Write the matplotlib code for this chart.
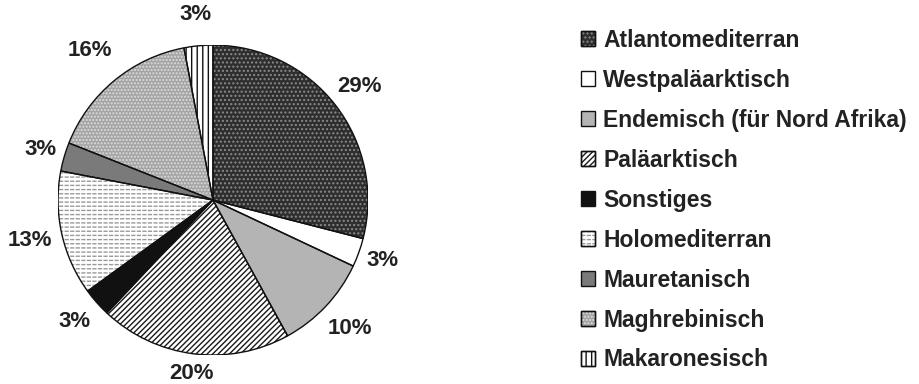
import matplotlib
matplotlib.use("Agg")
import matplotlib.pyplot as plt
import numpy as np
from matplotlib.patches import Wedge, Patch

plt.rcParams['font.family'] = ['Liberation Sans', 'DejaVu Sans']
plt.rcParams['hatch.linewidth'] = 1.0

categories = ["Atlantomediterran", "Westpaläarktisch", "Endemisch (für Nord Afrika)",
              "Paläarktisch", "Sonstiges", "Holomediterran", "Mauretanisch",
              "Maghrebinisch", "Makaronesisch"]
values = [29, 3, 10, 20, 3, 13, 3, 16, 3]
pct_labels = ["29%", "3%", "10%", "20%", "3%", "13%", "3%", "16%", "3%"]

faces = ['#2e2e2e', 'white', '#b4b4b4', 'white', '#111111', 'white', '#7a7a7a', '#a4a4a4', 'white']
hatches = ['....', None, None, '//////', None, '----', None, '.....', '|||']
hcolors = ['#8a8a8a', None, None, '#1a1a1a', None, '#999999', None, '#dddddd', '#111111']
# secondary overlay (breaks the horizontal lines into short dashes)
hatches2 = [None, None, None, None, None, '|||', None, None, None]
label_r = [1.2, 1.16, 1.21, 1.13, 1.19, 1.21, 1.16, 1.25, 1.2]

fig = plt.figure(figsize=(9.2, 3.84), dpi=100)
ax = fig.add_axes([0.063, 0.0755, 0.337, 0.807])
wedges, _ = ax.pie(values, startangle=90, counterclock=False, colors=faces,
                   wedgeprops=dict(linewidth=0))
for w, h, hc, h2, lab, r in zip(wedges, hatches, hcolors, hatches2, pct_labels, label_r):
    if h:
        ax.add_patch(Wedge(w.center, w.r, w.theta1, w.theta2, facecolor='none',
                           edgecolor=hc, linewidth=0, hatch=h, zorder=2))
    if h2:
        ax.add_patch(Wedge(w.center, w.r, w.theta1, w.theta2, facecolor='none',
                           edgecolor='white', linewidth=0, hatch=h2, zorder=2.5))
    ax.add_patch(Wedge(w.center, w.r, w.theta1, w.theta2, fill=False,
                       edgecolor='#111111', linewidth=1.0, zorder=3))
    mid = np.deg2rad((w.theta1 + w.theta2) / 2)
    ax.text(r * np.cos(mid), r * np.sin(mid), lab, ha='center', va='center',
            fontsize=16, fontweight='bold', color='#222222')
ax.set_xlim(-1, 1)
ax.set_ylim(-1, 1)
ax.set_aspect('equal')
ax.axis('off')

handles = []
for f, h, hc, h2 in zip(faces, hatches, hcolors, hatches2):
    base = Patch(facecolor=f, edgecolor='#111111', linewidth=1.0)
    if h:
        parts = [base, Patch(facecolor='none', edgecolor=hc, linewidth=0, hatch=h)]
        if h2:
            parts.append(Patch(facecolor='none', edgecolor='white', linewidth=0, hatch=h2))
        parts.append(Patch(fill=False, edgecolor='#111111', linewidth=1.0))
        handles.append(tuple(parts))
    else:
        handles.append(base)
fig.legend(handles, categories, loc='upper left', bbox_to_anchor=(0.632, 0.925),
           frameon=False, prop=dict(size=16.5, weight='bold'),
           handlelength=0.6, handleheight=0.6, handletextpad=0.35,
           labelspacing=0.74, labelcolor='#222222', borderaxespad=0, borderpad=0)

fig.savefig("out.png", dpi=100)
